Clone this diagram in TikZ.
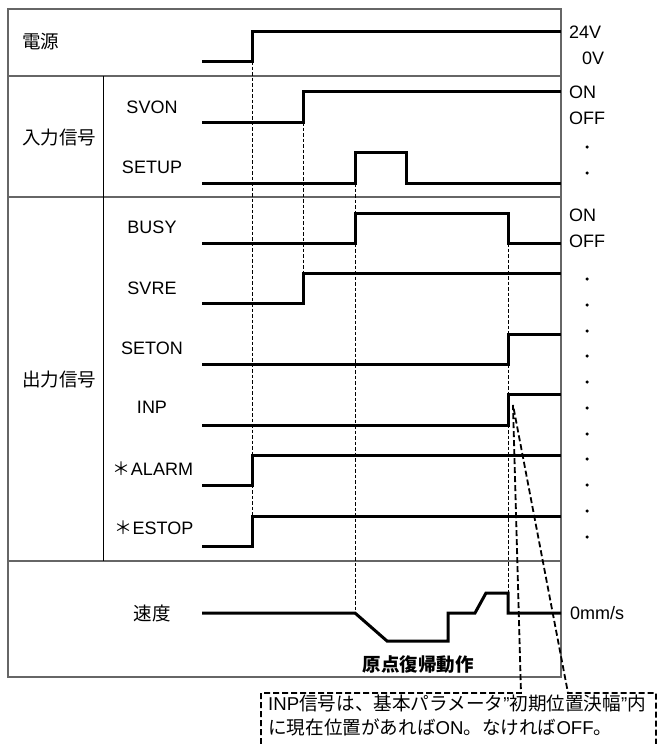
\documentclass[tikz,border=0pt]{standalone}
\usepackage{fontspec}
\setmainfont{Liberation Sans}
\newfontfamily\cjk{Noto Sans CJK JP}
\usetikzlibrary{positioning}

\begin{document}
\begin{tikzpicture}[
    every node/.style={font=\fontsize{18}{24}\selectfont, inner sep=0pt},
    jp/.style={font=\fontsize{18.5}{24}\selectfont\cjk},
    frame/.style={draw=black!60, line width=1.3pt},
    wave/.style={draw, line width=3pt, line join=miter},
    guide/.style={draw, line width=0.9pt, dash pattern=on 3.5pt off 2pt},
    callout/.style={draw, line width=1.8pt, dash pattern=on 6pt off 3pt},
    contdot/.style={circle, fill, minimum size=3.5pt}]

    \useasboundingbox (0pt, 0pt) rectangle (658pt, -744pt);

    % table frame
    \draw[frame] (8pt, -9pt) rectangle (561pt, -677pt);
    \draw[frame] (8pt, -76pt) -- (561pt, -76pt);
    \draw[frame] (8pt, -197pt) -- (561pt, -197pt);
    \draw[frame] (8pt, -561pt) -- (561pt, -561pt);
    \draw[line width=0.9pt] (103pt, -76pt) -- (103pt, -561pt);

    % group labels
    \node at (22pt, -42pt) (power) [jp, anchor=west] {電源};
    \node at (22pt, -138pt) (inputs) [jp, anchor=west] {入力信号};
    \node at (22pt, -380pt) (outputs) [jp, anchor=west] {出力信号};

    % signal labels
    \node at (152pt, -107pt) (svon) {SVON};
    \node at (152pt, -167pt) (setup) {SETUP};
    \node at (152pt, -227pt) (busy) {BUSY};
    \node at (152pt, -288pt) (svre) {SVRE};
    \node at (152pt, -348pt) (seton) {SETON};
    \node at (152pt, -407pt) (inp) {INP};
    \node at (153pt, -469pt) (alarm) {{\cjk ＊}ALARM};
    \node at (154pt, -528pt) (estop) {{\cjk ＊}ESTOP};
    \node at (152pt, -613pt) (speed) [jp] {速度};

    % timing guides
    \path[guide] (252pt, -61pt) -- (252pt, -516pt);
    \path[guide] (303pt, -122pt) -- (303pt, -273pt);
    \path[guide] (355pt, -183pt) -- (355pt, -613pt);
    \path[guide] (508pt, -243pt) -- (508pt, -593pt);

    % waveforms
    \path[wave] (202pt, -61pt) -- (252pt, -61pt) -- (252pt, -31pt) -- (561pt, -31pt); % power
    \path[wave] (202pt, -122pt) -- (303pt, -122pt) -- (303pt, -91pt) -- (561pt, -91pt); % SVON
    \path[wave] (202pt, -183pt) -- (355pt, -183pt) -- (355pt, -152pt) -- (406pt, -152pt) -- (406pt, -183pt) -- (561pt, -183pt); % SETUP
    \path[wave] (202pt, -243pt) -- (355pt, -243pt) -- (355pt, -213pt) -- (508pt, -213pt) -- (508pt, -243pt) -- (561pt, -243pt); % BUSY
    \path[wave] (202pt, -303pt) -- (303pt, -303pt) -- (303pt, -273pt) -- (561pt, -273pt); % SVRE
    \path[wave] (202pt, -364pt) -- (508pt, -364pt) -- (508pt, -334pt) -- (561pt, -334pt); % SETON
    \path[wave] (202pt, -425pt) -- (508pt, -425pt) -- (508pt, -394pt) -- (561pt, -394pt); % INP
    \path[wave] (202pt, -485pt) -- (252pt, -485pt) -- (252pt, -455pt) -- (561pt, -455pt); % ALARM
    \path[wave] (202pt, -546pt) -- (252pt, -546pt) -- (252pt, -516pt) -- (561pt, -516pt); % ESTOP
    \path[wave] (202pt, -613pt) -- (355pt, -613pt) -- (387pt, -641pt) -- (448pt, -641pt) -- (448pt, -613pt)
        -- (475pt, -613pt) -- (486pt, -593pt) -- (508pt, -593pt) -- (508pt, -613pt) -- (561pt, -613pt); % speed

    % level labels
    \node at (569pt, -32pt) (v24) [anchor=west] {24V};
    \node at (582pt, -58pt) (v0) [anchor=west] {0V};
    \node at (569pt, -92pt) (inon) [anchor=west] {ON};
    \node at (569pt, -118pt) (inoff) [anchor=west] {OFF};
    \node at (569pt, -215pt) (outon) [anchor=west] {ON};
    \node at (569pt, -241pt) (outoff) [anchor=west] {OFF};
    \node at (570pt, -613pt) (zero) [anchor=west] {0mm/s};

    \node at (587pt, -147pt) (d1) [contdot] {};
    \node at (587pt, -173pt) (d2) [contdot] {};
    \node at (587pt, -279pt) (d3) [contdot] {};
    \node at (587pt, -305pt) (d4) [contdot] {};
    \node at (587pt, -331pt) (d5) [contdot] {};
    \node at (587pt, -356pt) (d6) [contdot] {};
    \node at (587pt, -382pt) (d7) [contdot] {};
    \node at (587pt, -408pt) (d8) [contdot] {};
    \node at (587pt, -434pt) (d9) [contdot] {};
    \node at (587pt, -459pt) (d10) [contdot] {};
    \node at (587pt, -485pt) (d11) [contdot] {};
    \node at (587pt, -511pt) (d12) [contdot] {};
    \node at (587pt, -537pt) (d13) [contdot] {};

    \node at (418pt, -665pt) (homing) [font=\fontsize{18.5}{24}\selectfont\cjk\bfseries] {原点復帰動作};

    % INP note
    \coordinate (inpnote) at (513pt, -405pt);
    \path[callout] (261pt, -744pt) -- (261pt, -693pt) -- (521pt, -693pt) -- (inpnote) -- (568pt, -693pt) -- (656pt, -693pt) -- (656pt, -744pt);
    \node at (268pt, -695pt) (note) [anchor=north west, align=left, font=\fontsize{18.6}{24}\selectfont]
        {INP{\cjk 信号は、基本パラメータ}"{\cjk 初期位置決幅}"{\cjk 内}\\{\cjk に現在位置があれば}ON{\cjk 。なければ}OFF{\cjk 。}};

\end{tikzpicture}
\end{document}
